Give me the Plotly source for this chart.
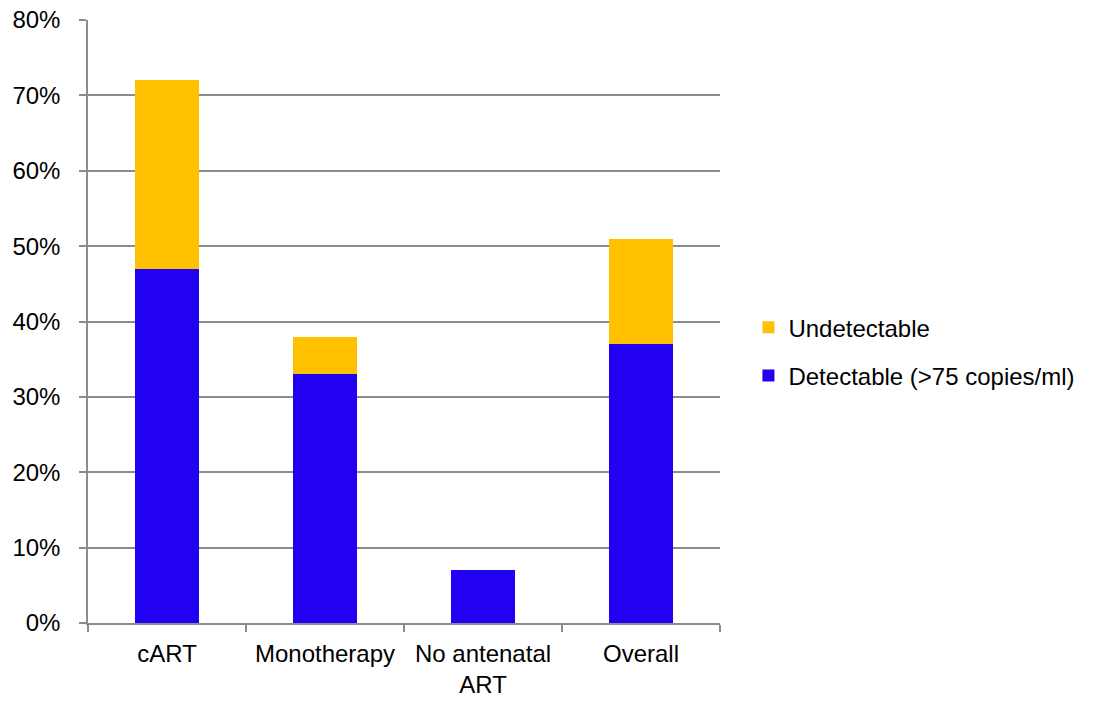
import plotly.graph_objects as go

# Viral load outcome by antenatal treatment group
categories = ["cART", "Monotherapy", "No antenatal<br>ART", "Overall"]
detectable = [0.47, 0.33, 0.07, 0.37]
undetectable = [0.25, 0.05, 0.00, 0.14]

BLUE = "#2200F2"
GOLD = "#FFC000"
GRID = "#8C8C8C"
FONT = "Liberation Sans, Arial, sans-serif"
FS = 24

fig = go.Figure()
fig.add_trace(go.Bar(
    x=categories, y=detectable, name="Detectable (>75 copies/ml)",
    marker=dict(color=BLUE, line=dict(width=0)), legendgroup="d", legendrank=2,
))
fig.add_trace(go.Bar(
    x=categories, y=undetectable, name="Undetectable",
    marker=dict(color=GOLD, line=dict(width=0)), legendgroup="u", legendrank=1,
))

fig.update_layout(
    width=1115, height=702,
    barmode="stack", bargap=0.595,
    paper_bgcolor="white", plot_bgcolor="white",
    font=dict(family=FONT, size=FS, color="black"),
    margin=dict(l=88, r=395, t=20, b=79, autoexpand=False),
    legend=dict(
        x=1.045, xanchor="left", y=0.45, yanchor="middle",
        traceorder="grouped", tracegroupgap=14,
        font=dict(family=FONT, size=FS, color="black"),
        itemwidth=30,
    ),
    showlegend=True,
)
fig.update_xaxes(
    showline=True, linecolor=GRID, linewidth=1.5,
    ticks="outside", tickson="boundaries", ticklen=7, tickcolor=GRID, tickwidth=1.5,
    ticklabelstandoff=8,
    showgrid=False, tickfont=dict(size=FS, color="black"),
)
fig.update_yaxes(
    range=[0, 0.8], dtick=0.1, tickformat=".0%",
    showline=True, linecolor=GRID, linewidth=1.5,
    ticks="outside", ticklen=7, tickcolor=GRID, tickwidth=1.5,
    ticklabelstandoff=14,
    showgrid=True, gridcolor=GRID, gridwidth=1.5,
    zeroline=False, tickfont=dict(size=FS, color="black"),
)

fig.write_html("out.html")
